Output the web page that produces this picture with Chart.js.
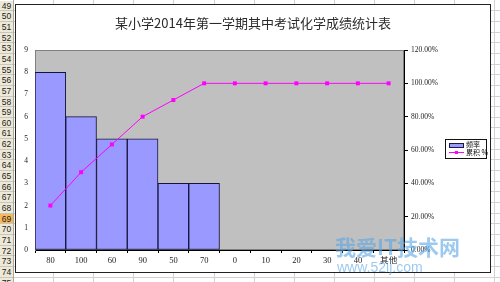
<!DOCTYPE html>
<html>
<head>
<meta charset="utf-8">
<script src="https://cdn.jsdelivr.net/npm/chart.js@4"></script>
<style>
  html, body { margin: 0; padding: 0; }
  body { width: 500px; height: 282px; overflow: hidden; background: #fff; position: relative;
         font-family: "Liberation Sans", "Noto Sans CJK SC", sans-serif; }
  .gl { position: absolute; background: #d2d2d2; }
  .rh { position: absolute; left: 0; width: 13px; background: #ece9d8; border-bottom: 1px solid #cbc7b8;
        box-sizing: border-box; font-size: 8.5px; color: #222; text-align: center; }
  .rh.sel { background: #f8b85a; }
  #hdrEdge { position: absolute; left: 13px; top: 0; width: 1px; height: 282px; background: #aca899; }
  #box { position: absolute; left: 15px; top: 4px; width: 474px; height: 267px; background: #fff;
         border: 1px solid #222; }
  #box canvas { position: absolute; left: 0; top: 0; }
  #title { position: absolute; left: 15px; width: 476px; top: 15px; line-height: 16px; text-align: center;
           font-family: "Noto Sans CJK SC", sans-serif; font-size: 13px; color: #2a2a2a; }
  #legend { position: absolute; left: 445px; top: 139px; width: 40px; height: 18px; border: 1px solid #111;
            background: #fff; font-family: "Noto Sans CJK SC", sans-serif; font-size: 7px; color: #111; }
  #legend .sw { position: absolute; left: 3px; top: 3px; width: 13px; height: 3px; background: #9999ff;
                border: 1px solid #1a1a40; }
  #legend .ln { position: absolute; left: 3px; top: 12px; width: 15px; height: 1px; background: #ff00ff; }
  #legend .mk { position: absolute; left: 9px; top: 11px; width: 3px; height: 3px; background: #ff00ff; }
  #legend .t1 { position: absolute; left: 20px; top: 0px; line-height: 9px; }
  #legend .t2 { position: absolute; left: 20px; top: 8px; line-height: 9px; white-space: nowrap; }
  #wm1 { position: absolute; left: 335px; top: 235px; font-family: "Noto Sans CJK SC", sans-serif;
         font-weight: bold; font-size: 21px; line-height: 23px; color: rgba(90,165,230,0.6); }
  #wm2 { position: absolute; left: 337px; top: 260px; font-family: "Liberation Sans", sans-serif;
         font-size: 14px; line-height: 14px; color: rgba(90,165,230,0.6); }
</style>
</head>
<body>
<div id="sheet"></div>
<div id="hdrEdge"></div>
<div id="box"><canvas id="chart" width="474" height="267"></canvas></div>
<div id="title">某小学2014年第一学期其中考试化学成绩统计表</div>
<div id="legend">
  <div class="sw"></div><div class="t1">频率</div>
  <div class="ln"></div><div class="mk"></div><div class="t2">累积 %</div>
</div>
<div id="wm1">我爱IT技术网</div>
<div id="wm2">www.52ij.com</div>
<script>
// Score bins, how many students fell in each, and the running share in percent
const categories = ['80', '100', '60', '90', '50', '70', '0', '10', '20', '30', '40', '其他'];
const frequency = [8, 6, 5, 5, 3, 3, 0, 0, 0, 0, 0, 0];
const cumulativePct = [26.67, 46.67, 63.33, 80, 90, 100, 100, 100, 100, 100, 100, 100];
const countTicks = [0, 1, 2, 3, 4, 5, 6, 7, 8, 9];
const pctTicks = [0, 20, 40, 60, 80, 100, 120];
const rowNumbers = [49, 50, 51, 52, 53, 54, 55, 56, 57, 58, 59, 60, 61, 62, 63, 64, 65, 66, 67, 68, 69, 70, 71, 72, 73, 74, 75];
const selectedRow = 69;

// Worksheet backdrop: row headers and cell gridlines
const sheet = document.getElementById('sheet');
const rowH = 10.65, firstRowCenter = 6;
rowNumbers.forEach((n, i) => {
  const top = Math.round(firstRowCenter + i * rowH - rowH / 2);
  const next = Math.round(firstRowCenter + (i + 1) * rowH - rowH / 2);
  const line = document.createElement('div');
  line.className = 'gl';
  line.style.cssText = `left:14px;top:${next - 1}px;width:486px;height:1px`;
  sheet.appendChild(line);
  const h = document.createElement('div');
  h.className = 'rh' + (n === selectedRow ? ' sel' : '');
  h.style.top = top + 'px';
  h.style.height = (next - top) + 'px';
  h.style.lineHeight = (next - top) + 'px';
  h.textContent = n;
  sheet.appendChild(h);
});
for (let k = 1; k <= 12; k++) {
  const v = document.createElement('div');
  v.className = 'gl';
  v.style.cssText = `left:${Math.round(13 + k * 40.1)}px;top:0;width:1px;height:282px`;
  sheet.appendChild(v);
}

// Grey plot area with its frame
const plotBackground = {
  id: 'plotBackground',
  beforeDraw(chart) {
    const { ctx, chartArea: a } = chart;
    ctx.save();
    ctx.fillStyle = '#c0c0c0';
    ctx.fillRect(a.left, a.top, a.right - a.left, a.bottom - a.top);
    ctx.strokeStyle = '#808080';
    ctx.lineWidth = 1;
    ctx.strokeRect(a.left + 0.5, a.top + 0.5, a.right - a.left - 1, a.bottom - a.top - 1);
    ctx.restore();
  }
};

const serif = { family: '"Liberation Serif", "Noto Sans CJK SC", serif' };

new Chart(document.getElementById('chart'), {
  data: {
    labels: categories,
    datasets: [
      {
        type: 'line',
        label: '累积 %',
        data: cumulativePct,
        yAxisID: 'y1',
        borderColor: '#ff00ff',
        backgroundColor: '#ff00ff',
        borderWidth: 1,
        pointStyle: 'rect',
        pointRadius: 2.8,
        pointBorderWidth: 0,
        tension: 0,
        order: 0
      },
      {
        type: 'bar',
        label: '频率',
        data: frequency,
        yAxisID: 'y',
        backgroundColor: '#9999ff',
        borderColor: '#14143a',
        borderWidth: 1,
        borderSkipped: false,
        categoryPercentage: 1,
        barPercentage: 1,
        order: 1
      }
    ]
  },
  options: {
    responsive: false,
    animation: false,
    devicePixelRatio: 1,
    layout: { padding: { top: 45, left: 0, right: 0, bottom: 0 } },
    plugins: { legend: { display: false }, title: { display: false }, tooltip: { enabled: false } },
    scales: {
      x: {
        type: 'category',
        offset: true,
        afterFit: s => { s.height = 22; },
        grid: { offset: true, drawOnChartArea: false, drawTicks: true, tickLength: 3, color: '#000' },
        border: { display: true, color: '#000', width: 1 },
        ticks: { color: '#222', padding: 3, maxRotation: 0, autoSkip: false, font: { ...serif, size: 8.5 } }
      },
      y: {
        position: 'left',
        min: 0,
        max: 9,
        afterFit: s => { s.width = 19; },
        afterBuildTicks: s => { s.ticks = countTicks.map(v => ({ value: v })); },
        grid: { drawOnChartArea: false, drawTicks: false },
        border: { display: true, color: '#808080', width: 1 },
        ticks: { color: '#222', padding: 7, font: { ...serif, size: 7.5 } }
      },
      y1: {
        position: 'right',
        min: 0,
        max: 120,
        afterFit: s => { s.width = 86; },
        afterBuildTicks: s => { s.ticks = pctTicks.map(v => ({ value: v })); },
        grid: { drawOnChartArea: false, drawTicks: true, tickLength: 4, color: '#000' },
        border: { display: true, color: '#000', width: 1 },
        ticks: { color: '#222', padding: 3, font: { ...serif, size: 7.5 },
                 callback: v => v.toFixed(2) + '%' }
      }
    }
  },
  plugins: [plotBackground]
});
</script>
</body>
</html>
